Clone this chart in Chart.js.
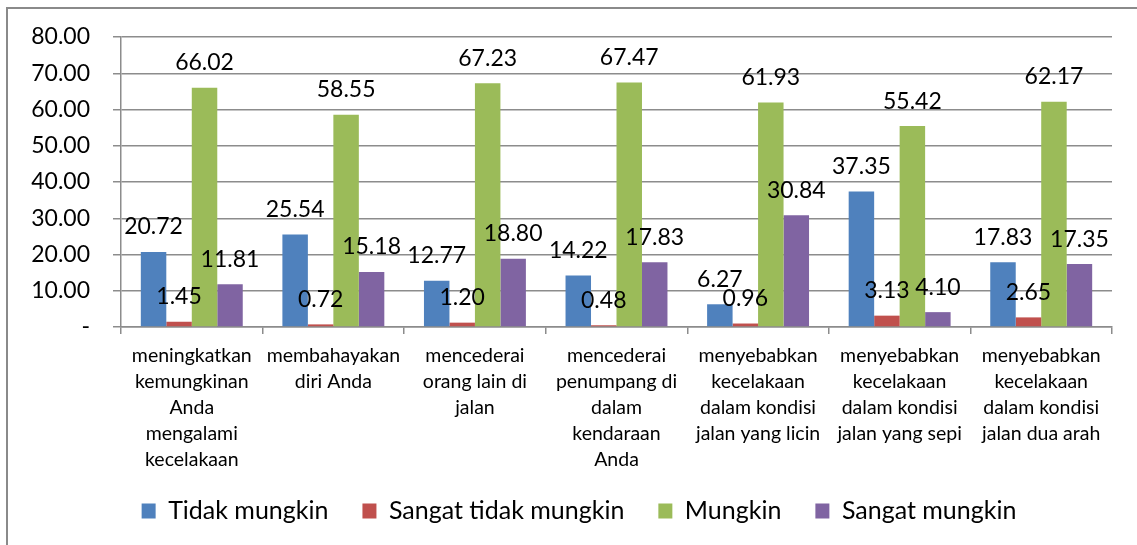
<!DOCTYPE html>
<html>
<head>
<meta charset="utf-8">
<script src="https://cdn.jsdelivr.net/npm/chart.js@4.4.1/dist/chart.umd.min.js"></script>
<style>
  html, body { margin: 0; padding: 0; background: #fff; overflow: hidden; }
  #wrap { position: relative; width: 1137px; height: 545px; overflow: hidden; }
  #frame { position: absolute; left: 6px; top: 7px; width: 1200px; height: 600px; border: 2px solid #8a8a8a; box-sizing: border-box; }
  #box { position: absolute; left: 0; top: 0; width: 1137px; height: 545px; }
</style>
</head>
<body>
<div id="wrap">
  <div id="frame"></div>
  <div id="box"><canvas id="chart1"></canvas></div>
</div>
<script>
const categories = [
  ['meningkatkan', 'kemungkinan', 'Anda', 'mengalami', 'kecelakaan'],
  ['membahayakan', 'diri Anda'],
  ['mencederai', 'orang lain di', 'jalan'],
  ['mencederai', 'penumpang di', 'dalam', 'kendaraan', 'Anda'],
  ['menyebabkan', 'kecelakaan', 'dalam kondisi', 'jalan yang licin'],
  ['menyebabkan', 'kecelakaan', 'dalam kondisi', 'jalan yang sepi'],
  ['menyebabkan', 'kecelakaan', 'dalam kondisi', 'jalan dua arah']
];
const tidakMungkin = [20.72, 25.54, 12.77, 14.22, 6.27, 37.35, 17.83];
const sangatTidakMungkin = [1.45, 0.72, 1.20, 0.48, 0.96, 3.13, 2.65];
const mungkin = [66.02, 58.55, 67.23, 67.47, 61.93, 55.42, 62.17];
const sangatMungkin = [11.81, 15.18, 18.80, 17.83, 30.84, 4.10, 17.35];

const FONT = 'Lato';
const GRID = '#8c8c8c';

// value labels sit above each bar, like the Excel original
const valueLabels = {
  id: 'valueLabels',
  afterDatasetsDraw(chart) {
    const ctx = chart.ctx;
    ctx.save();
    ctx.font = '23px ' + FONT;
    ctx.fillStyle = '#000';
    ctx.textAlign = 'center';
    ctx.textBaseline = 'middle';
    chart.data.datasets.forEach((ds, i) => {
      chart.getDatasetMeta(i).data.forEach((bar, j) => {
        ctx.fillText(ds.data[j].toFixed(2), bar.x, bar.y - 25);
      });
    });
    ctx.restore();
  }
};

// pull the legend up a bit and center it on the whole frame
const legendNudge = {
  id: 'legendNudge',
  afterLayout(chart) {
    const lg = chart.legend;
    lg.top -= 11.5; lg.bottom -= 11.5;
    lg.left += 8; lg.right += 8;
  }
};

new Chart(document.getElementById('chart1'), {
  type: 'bar',
  data: {
    labels: categories,
    datasets: [
      { label: 'Tidak mungkin', data: tidakMungkin, backgroundColor: '#4F81BD' },
      { label: 'Sangat tidak mungkin', data: sangatTidakMungkin, backgroundColor: '#C0504D' },
      { label: 'Mungkin', data: mungkin, backgroundColor: '#9BBB59' },
      { label: 'Sangat mungkin', data: sangatMungkin, backgroundColor: '#8064A2' }
    ]
  },
  options: {
    responsive: true,
    maintainAspectRatio: false,
    animation: false,
    datasets: { bar: { categoryPercentage: 0.72, barPercentage: 1, borderWidth: 0 } },
    layout: { padding: { top: 37, left: 30, right: 25, bottom: 0 } },
    plugins: {
      legend: {
        display: true,
        position: 'bottom',
        labels: { boxWidth: 14, boxHeight: 15, padding: 34, color: '#000', font: { family: FONT, size: 25 } }
      },
      tooltip: { enabled: false }
    },
    scales: {
      x: {
        grid: { drawOnChartArea: false, drawTicks: true, tickLength: 7, color: GRID, lineWidth: 1.5 },
        border: { color: GRID, width: 1.5 },
        ticks: { color: '#000', font: { family: FONT, size: 19.5, lineHeight: 1.33 }, padding: 9, maxRotation: 0, autoSkip: false },
        afterFit(s) { s.height = 149; }
      },
      y: {
        min: 0,
        max: 80,
        ticks: {
          stepSize: 10,
          color: '#000',
          font: { family: FONT, size: 23 },
          padding: 23,
          callback: v => v === 0 ? '-' : v.toFixed(2)
        },
        grid: { color: GRID, lineWidth: 1.5, tickLength: 8 },
        border: { color: GRID, width: 1.5 },
        afterFit(s) { s.width = 91; }
      }
    }
  },
  plugins: [valueLabels, legendNudge]
});
</script>
</body>
</html>
